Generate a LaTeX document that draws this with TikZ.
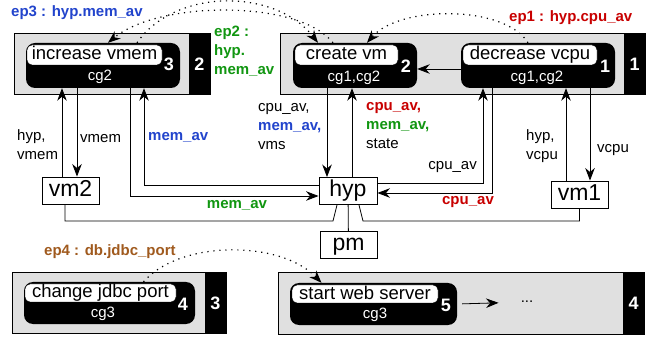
\documentclass[tikz,border=0pt]{standalone}
\usepackage{fontspec}
\setmainfont{Liberation Sans}
\usetikzlibrary{arrows.meta}
\definecolor{epblue}{RGB}{34,68,204}
\definecolor{epgreen}{RGB}{17,150,17}
\definecolor{epred}{RGB}{200,0,0}
\definecolor{epbrown}{RGB}{160,90,30}
\definecolor{phasegray}{RGB}{224,224,224}
\tikzset{
  phase/.style     = {draw, fill=phasegray, line width=1pt, minimum height=61pt, inner sep=0pt},
  phase-tab/.style = {draw, fill=black, text=white, line width=1pt, minimum width=21pt,
                      minimum height=61pt, inner sep=0pt, font=\bfseries\fontsize{18}{18}\selectfont},
  task/.style      = {fill=black, rounded corners=9pt, inner sep=0pt},
  name-box/.style  = {draw, fill=white, rounded corners=5pt, inner xsep=0pt, inner ysep=1.5pt,
                      text height=13.5pt, text depth=3.5pt, font=\fontsize{18.5}{18.5}\selectfont},
  cg-label/.style  = {text=white, inner sep=0pt, font=\fontsize{15}{15}\selectfont},
  task-num/.style  = {text=white, inner sep=0pt, font=\bfseries\fontsize{18}{18}\selectfont},
  host/.style      = {draw, line width=0.9pt, minimum width=57pt, inner xsep=0pt, inner ysep=3pt,
                      text height=16.5pt, text depth=4.5pt, font=\fontsize{23}{23}\selectfont},
  msg/.style       = {align=left, inner sep=0pt, font=\fontsize{15}{19}\selectfont},
  ep-label/.style  = {align=left, inner sep=0pt, font=\bfseries\fontsize{15}{19}\selectfont},
  flow/.style      = {draw, line width=0.8pt, -{Stealth[length=12.5pt,width=9.5pt,inset=4pt]}},
  wire/.style      = {draw, line width=0.8pt},
  ep-flow/.style   = {draw, line width=1.2pt, dash pattern=on 1.2pt off 4.8pt,
                      -{Stealth[length=12.5pt,width=9.5pt,inset=4pt]}},
}
\begin{document}
\begin{tikzpicture}[x=1pt, y=-1pt]
  \useasboundingbox (0,0) rectangle (651,339);

  % phases
  \node [phase, minimum width=196pt] (p2) at (112,64.5) {};
  \node [phase-tab] (p2-tab) at (199.5,64.5) {2};
  \node [phase, minimum width=365pt] (p1) at (462.5,64.5) {};
  \node [phase-tab] (p1-tab) at (634.5,64.5) {1};
  \node [phase, minimum width=214pt, minimum height=60pt] (p3) at (119,303) {};
  \node [phase-tab, minimum height=60pt] (p3-tab) at (215.5,303) {3};
  \node [phase, minimum width=366pt] (p4) at (461,303.5) {};
  \node [phase-tab] (p4-tab) at (633.5,303.5) {4};

  % tasks
  \node [task, minimum width=154pt, minimum height=45pt] (t3) at (103,65.5) {};
  \node [name-box, minimum width=135pt] (n3) at (94.5,55) {increase vmem};
  \node [cg-label] (c3) at (100,76.5) {cg2};
  \node [task-num] (k3) at (169,64) {3};

  \node [task, minimum width=124pt, minimum height=45pt] (t2) at (355,65.5) {};
  \node [name-box, minimum width=103pt] (n2) at (346.5,55) {create vm};
  \node [cg-label] (c2) at (354,77.5) {cg1,cg2};
  \node [task-num] (k2) at (406,66) {2};

  \node [task, minimum width=154pt, minimum height=45pt] (t1) at (538,65.5) {};
  \node [name-box, minimum width=134pt] (n1) at (530,55) {decrease vcpu};
  \node [cg-label] (c1) at (537,77.5) {cg1,cg2};
  \node [task-num] (k1) at (605,66) {1};

  \node [task, minimum width=171pt, minimum height=42pt] (t4) at (109.5,303) {};
  \node [name-box, minimum width=151pt, inner ysep=0.5pt] (n4) at (100.5,293) {change jdbc port};
  \node [cg-label] (c4) at (103,314) {cg3};
  \node [task-num] (k4) at (183,304) {4};

  \node [task, minimum width=167pt, minimum height=42pt] (t5) at (373.5,304) {};
  \node [name-box, minimum width=146pt, inner ysep=0.5pt] (n5) at (365,294) {start web server};
  \node [cg-label] (c5) at (375,315) {cg3};
  \node [task-num] (k5) at (446,305) {5};
  \node [inner sep=0pt, font=\fontsize{15}{15}\selectfont] (more) at (527,302) {...};

  % hosts
  \node [host] (vm2) at (70.5,190.5) {vm2};
  \node [host, minimum width=58pt] (hyp) at (348,191) {hyp};
  \node [host] (pm) at (348.5,245) {pm};
  \node [host] (vm1) at (579.5,194.5) {vm1};

  % wire positions
  \coordinate (hv2) at (62,0);
  \coordinate (vmem) at (77,0);
  \coordinate (ma-out) at (130,196);
  \coordinate (ma-in) at (144,185);
  \coordinate (cv-out) at (327,0);
  \coordinate (cv-in) at (352,0);
  \coordinate (ca-in) at (483,183);
  \coordinate (ca-out) at (492,193);
  \coordinate (hv1) at (566,0);
  \coordinate (vcpu) at (590,0);
  \coordinate (bend2) at (333,221);
  \coordinate (bend1) at (363,221);

  % message flows
  \draw [flow] (vm2.north -| hv2) -- (t3.south -| hv2);
  \draw [flow] (t3.south -| vmem) -- (vm2.north -| vmem);
  \draw [flow] (t3.south -| ma-out) |- (hyp.west |- ma-out);
  \draw [flow] (hyp.west |- ma-in) -| (t3.south -| ma-in);
  \draw [flow] (t2.south -| cv-out) -- (hyp.north -| cv-out);
  \draw [flow] (hyp.north -| cv-in) -- (t2.south -| cv-in);
  \draw [flow] (hyp.east |- ca-in) -| (t1.south -| ca-in);
  \draw [flow] (t1.south -| ca-out) |- (hyp.east |- ca-out);
  \draw [flow] (vm1.north -| hv1) -- (t1.south -| hv1);
  \draw [flow] (t1.south -| vcpu) -- (vm1.north -| vcpu);
  \draw [flow] ([yshift=-3.5pt]t1.west) -- ([yshift=-3.5pt]t2.east);
  \draw [flow, shorten <=5pt, shorten >=22pt] (t5.east) -- (more);

  % links between hosts
  \draw [wire] (vm2.south -| 65,0) |- (bend2) -- ([xshift=-11pt]hyp.south);
  \draw [wire] (vm1.south) |- (bend1) -- ([xshift=11pt]hyp.south);
  \draw [wire] (hyp) -- (pm);

  % labels
  \node [msg, anchor=west] (l-hv2) at (17,145) {hyp,\\vmem};
  \node [msg, anchor=west] (l-vmem) at (80,139) {vmem};
  \node [msg, anchor=west, text=epblue, font=\bfseries\fontsize{15}{19}\selectfont] (l-ma-in) at (148,137) {mem\_av};
  \node [msg, text=epgreen, font=\bfseries\fontsize{15}{19}\selectfont] (l-ma-out) at (237,205) {mem\_av};
  \node [msg, anchor=west] (l-cv-out) at (258,127) {cpu\_av,\\\textcolor{epblue}{\textbf{mem\_av,}}\\vms};
  \node [msg, anchor=west] (l-cv-in) at (366,126) {\textcolor{epred}{\textbf{cpu\_av,}}\\\textcolor{epgreen}{\textbf{mem\_av,}}\\state};
  \node [msg, anchor=east] (l-ca-in) at (477,167) {cpu\_av};
  \node [msg, text=epred, font=\bfseries\fontsize{15}{19}\selectfont] (l-ca-out) at (468,202) {cpu\_av};
  \node [msg, anchor=west] (l-hv1) at (526,146) {hyp,\\vcpu};
  \node [msg, anchor=west] (l-vcpu) at (597,150) {vcpu};

  % event paths
  \node [ep-label, anchor=west, text=epblue] (ep3) at (11,13) {ep3 : hyp.mem\_av};
  \node [ep-label, anchor=north west, text=epgreen] (ep2) at (214,26) {ep2 :\\hyp.\\mem\_av};
  \node [ep-label, anchor=west, text=epred] (ep1) at (509,18) {ep1 : hyp.cpu\_av};
  \node [ep-label, anchor=west, text=epbrown] (ep4) at (44,252) {ep4 : db.jdbc\_port};

  \draw [ep-flow] ([xshift=34pt]t3.north) .. controls (175,-12) and (275,-12) .. ([xshift=-37pt]t2.north);
  \draw [ep-flow] ([xshift=-22pt]t2.north) .. controls (300,0) and (160,0) .. ([xshift=5pt]t3.north);
  \draw [ep-flow] ([xshift=-10pt]t1.north) .. controls (505,5) and (400,5) .. ([xshift=12pt]t2.north);
  \draw [ep-flow] ([xshift=34pt]t4.north) .. controls (180,240) and (280,240) .. ([xshift=-52pt]t5.north);
\end{tikzpicture}
\end{document}
